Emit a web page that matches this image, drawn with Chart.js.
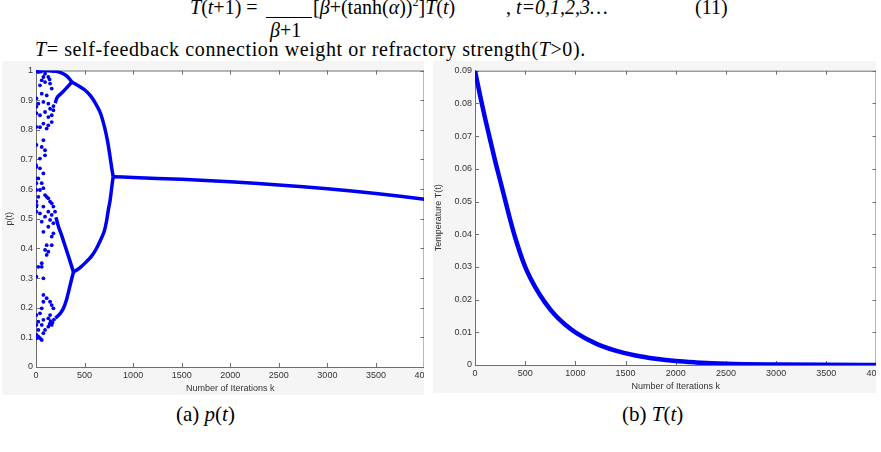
<!DOCTYPE html>
<html>
<head>
<meta charset="utf-8">
<script src="https://cdn.jsdelivr.net/npm/chart.js@4.4.0/dist/chart.umd.min.js"></script>
<style>
  body { margin: 0; width: 881px; height: 452px; background: #fff; position: relative; overflow: hidden; font-family: "Liberation Serif", serif; color: #000; }
  .txt { position: absolute; white-space: nowrap; font-size: 20px; line-height: 1; }
  .cap { font-size: 21px; }
  .panel { position: absolute; background: #f5f5f5; overflow: hidden; }
  .panel canvas { position: absolute; left: 0; top: 0; }
  sup { font-size: 12px; line-height: 0; }
</style>
</head>
<body>

<!-- texte du document autour des figures -->
<div class="txt" style="left:190px;top:-3px"><i>T</i>(<i>t</i>+1) =</div>
<div style="position:absolute;left:266px;top:17px;width:46px;height:1px;background:#000"></div>
<div class="txt" style="left:270px;top:20px"><i>β</i>+1</div>
<div class="txt" style="left:313px;top:-3px">[<i>β</i>+(tanh(<i>α</i>))<sup>2</sup>]<i>T</i>(<i>t</i>)</div>
<div class="txt" style="left:506px;top:-3px">, <i>t=0,1,2,3…</i></div>
<div class="txt" style="left:695px;top:-3px">(11)</div>
<div class="txt" style="left:35px;top:39px;letter-spacing:0.6px"><i>T</i>= self-feedback connection weight or refractory strength(<i>T</i>&gt;0).</div>

<div class="panel" style="left:2px;top:61px;width:422px;height:334px">
  <canvas id="chartP" width="462" height="334"></canvas>
</div>
<div class="panel" style="left:433px;top:61px;width:443px;height:332px">
  <canvas id="chartT" width="485" height="332"></canvas>
</div>

<div class="txt cap" style="left:176px;top:404px">(a) <i>p</i>(<i>t</i>)</div>
<div class="txt cap" style="left:622px;top:404px">(b) <i>T</i>(<i>t</i>)</div>

<script>
// ticks
const kTicks = [0, 500, 1000, 1500, 2000, 2500, 3000, 3500, 4000];
const pTicks = [0, 0.1, 0.2, 0.3, 0.4, 0.5, 0.6, 0.7, 0.8, 0.9, 1];
const tTicks = [0, 0.01, 0.02, 0.03, 0.04, 0.05, 0.06, 0.07, 0.08, 0.09];

// p(t): branches [k, p]
const pTop = [[0, 1.0], [60, 1.0], [120, 0.999], [200, 0.997], [260, 0.992], [310, 0.983], [345, 0.972], [369, 0.961]];
const pInner = [[369, 0.961], [320, 0.943], [270, 0.926], [230, 0.914], [212, 0.905], [198, 0.89]];
const pOuterUp = [[369, 0.961], [440, 0.948], [500, 0.935], [560, 0.915], [620, 0.885], [665, 0.855], [705, 0.81], [735, 0.765], [760, 0.715], [780, 0.67], [795, 0.642]];
const pOuterLow = [[795, 0.642], [785, 0.62], [776, 0.595], [762, 0.56], [745, 0.53], [725, 0.49], [700, 0.455], [665, 0.428], [620, 0.398], [570, 0.373], [510, 0.352], [460, 0.337], [420, 0.327], [386, 0.32]];
const pMidUp = [[386, 0.32], [355, 0.352], [320, 0.388], [290, 0.418], [260, 0.448], [231, 0.474], [205, 0.505]];
const pMidLow = [[386, 0.32], [362, 0.29], [340, 0.26], [315, 0.228], [285, 0.2], [255, 0.183], [225, 0.172], [200, 0.165]];
const pTail = [[795, 0.642], [1000, 0.639], [1500, 0.633], [2000, 0.625], [2500, 0.614], [3000, 0.601], [3500, 0.585], [4000, 0.566]];

// p(t): chaotic iterations near the start
const pChaos = [
  [10, 0.998], [24, 0.995], [50, 0.996], [93, 0.989], [127, 0.978], [76, 0.978], [59, 0.967], [93, 0.961], [140, 0.97],
  [145, 0.956], [41, 0.95], [162, 0.939], [59, 0.922], [110, 0.916], [76, 0.894], [24, 0.888], [127, 0.888],
  [180, 0.88], [145, 0.871], [179, 0.866], [93, 0.86], [41, 0.849], [162, 0.849], [127, 0.843], [162, 0.826],
  [76, 0.821], [127, 0.815], [41, 0.809], [110, 0.804], [76, 0.765], [59, 0.742], [93, 0.731], [93, 0.714], [41, 0.703],
  [0, 0.681], [41, 0.67], [76, 0.653], [24, 0.636], [59, 0.62], [76, 0.603], [41, 0.597], [93, 0.58], [24, 0.574],
  [110, 0.574], [127, 0.569], [145, 0.558], [162, 0.552], [7, 0.546], [76, 0.541], [179, 0.541], [196, 0.524],
  [127, 0.524], [41, 0.518], [162, 0.513], [93, 0.507], [145, 0.496], [59, 0.49], [179, 0.485], [127, 0.473],
  [76, 0.456], [179, 0.451], [162, 0.44], [110, 0.411], [162, 0.411], [93, 0.395], [127, 0.389], [110, 0.378],
  [59, 0.35], [24, 0.338], [59, 0.338], [76, 0.299], [76, 0.243], [110, 0.232], [145, 0.22], [76, 0.22],
  [162, 0.209], [59, 0.198], [179, 0.198], [41, 0.181], [145, 0.175], [185, 0.16], [170, 0.15], [150, 0.155],
  [140, 0.145], [127, 0.164], [76, 0.159], [24, 0.153], [162, 0.142], [127, 0.136], [59, 0.142], [93, 0.125],
  [24, 0.125], [76, 0.114], [7, 0.108], [41, 0.097], [59, 0.091], [24, 0.102],
  [4, 1.0], [4, 0.906], [4, 0.878], [4, 0.856], [4, 0.81], [4, 0.749], [4, 0.675], [4, 0.636], [4, 0.62],
  [4, 0.597], [4, 0.558], [4, 0.541], [4, 0.524], [4, 0.305], [4, 0.175], [4, 0.142], [4, 0.097]
];

// T(t)
const kTemp = [0, 50, 100, 150, 200, 250, 300, 350, 400, 500, 600, 700, 800, 900, 1000, 1200, 1400, 1600, 1800, 2000, 2200, 2500, 3000, 3500, 4000];
const tempT = [0.090, 0.0825, 0.0755, 0.069, 0.0625, 0.0565, 0.0505, 0.0445, 0.039, 0.030, 0.0238, 0.019, 0.0152, 0.0123, 0.0100, 0.0066, 0.0044, 0.0029, 0.0019, 0.0012, 0.0008, 0.0004, 0.00015, 0.00005, 0.00002];

const blue = "#0000f0";
const axisGray = "#6e6e6e";
const labelColor = "#333";
const tickFont = { family: "Liberation Sans, Arial, sans-serif", size: 9 };

const toXY = (arr) => arr.map(([x, y]) => ({ x: x, y: y }));

// fond blanc + boite + ticks vers l'interieur (style matlab)
const boxPlugin = {
  id: "box",
  beforeDraw(chart) {
    const { ctx, chartArea: a } = chart;
    ctx.save();
    ctx.fillStyle = "#fff";
    ctx.fillRect(a.left, a.top, a.right - a.left, a.bottom - a.top);
    ctx.restore();
  },
  beforeDatasetsDraw(chart) {
    const { ctx, chartArea: a, scales } = chart;
    ctx.save();
    ctx.strokeStyle = axisGray;
    ctx.lineWidth = 1;
    ctx.beginPath();
    ctx.moveTo(a.left, a.top + 0.5);
    ctx.lineTo(a.right, a.top + 0.5);
    ctx.moveTo(a.right - 0.5, a.top);
    ctx.lineTo(a.right - 0.5, a.bottom);
    scales.x.ticks.forEach((t) => {
      const px = Math.round(scales.x.getPixelForValue(t.value)) + 0.5;
      ctx.moveTo(px, a.bottom); ctx.lineTo(px, a.bottom - 4);
      ctx.moveTo(px, a.top); ctx.lineTo(px, a.top + 4);
    });
    scales.y.ticks.forEach((t) => {
      const py = Math.round(scales.y.getPixelForValue(t.value)) + 0.5;
      ctx.moveTo(a.left, py); ctx.lineTo(a.left + 4, py);
      ctx.moveTo(a.right, py); ctx.lineTo(a.right - 4, py);
    });
    ctx.stroke();
    ctx.restore();
  },
};

function xAxis() {
  return {
    type: "linear",
    min: 0,
    max: 4000,
    afterBuildTicks: (s) => { s.ticks = kTicks.map((v) => ({ value: v })); },
    afterFit: (s) => { s.height = 28; },
    grid: { display: true, drawOnChartArea: false, drawTicks: false },
    border: { color: axisGray, width: 1 },
    ticks: { font: tickFont, color: labelColor, padding: 3, maxRotation: 0, autoSkip: false, callback: (v) => String(v) },
    title: { display: true, text: "Number of Iterations k", font: tickFont, color: labelColor, padding: { top: 0, bottom: 1.5 } },
  };
}

function yAxis(max, ticksArr, width, title, titlePad) {
  return {
    type: "linear",
    min: 0,
    max: max,
    afterBuildTicks: (s) => { s.ticks = ticksArr.map((v) => ({ value: v })); },
    afterFit: (s) => { s.width = width; },
    grid: { display: true, drawOnChartArea: false, drawTicks: false },
    border: { color: axisGray, width: 1 },
    ticks: { font: tickFont, color: labelColor, padding: 3, autoSkip: false, callback: (v) => String(v) },
    title: { display: true, text: title, font: tickFont, color: labelColor, padding: { top: titlePad, bottom: 0 } },
  };
}

function branch(pts) {
  return {
    data: toXY(pts),
    showLine: true,
    pointRadius: 0,
    borderWidth: 3.5,
    borderColor: blue,
    tension: 0.2,
  };
}

// ---------- grafico p(t) ----------
new Chart(document.getElementById("chartP").getContext("2d"), {
  type: "scatter",
  data: {
    datasets: [
      branch(pTop), branch(pInner), branch(pOuterUp), branch(pOuterLow),
      branch(pMidUp), branch(pMidLow), branch(pTail),
      {
        data: toXY(pChaos),
        showLine: false,
        pointRadius: 1.9,
        pointBorderWidth: 0,
        backgroundColor: blue,
      },
    ],
  },
  options: {
    responsive: false,
    animation: false,
    layout: { padding: { left: 0, top: 9.5, right: 39.5, bottom: 0 } },
    plugins: { legend: { display: false }, tooltip: { enabled: false } },
    scales: { x: xAxis(), y: yAxis(1, pTicks, 34, "p(t)", 2.6) },
  },
  plugins: [boxPlugin],
});

// ---------- grafico T(t) ----------
new Chart(document.getElementById("chartT").getContext("2d"), {
  type: "scatter",
  data: {
    datasets: [
      {
        data: kTemp.map((k, i) => ({ x: k, y: tempT[i] })),
        showLine: true,
        pointRadius: 0,
        borderWidth: 4.5,
        borderColor: blue,
        cubicInterpolationMode: "monotone",
      },
    ],
  },
  options: {
    responsive: false,
    animation: false,
    layout: { padding: { left: 0, top: 9.7, right: 41.5, bottom: 0 } },
    plugins: { legend: { display: false }, tooltip: { enabled: false } },
    scales: { x: xAxis(), y: yAxis(0.09, tTicks, 42, "Temperature T(t)", 0.6) },
  },
  plugins: [boxPlugin],
});
</script>
</body>
</html>
